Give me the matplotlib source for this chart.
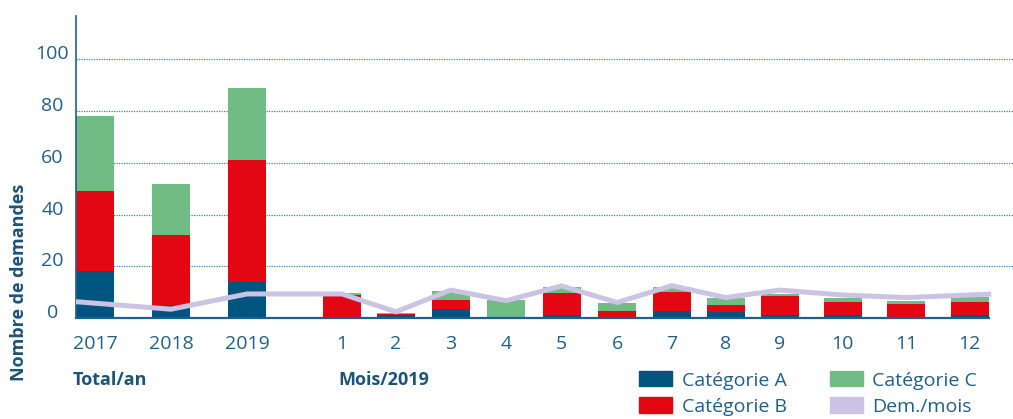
import matplotlib
matplotlib.use('Agg')
import matplotlib.pyplot as plt
import matplotlib.patches as patches

plt.rcParams['font.family'] = ['Open Sans', 'DejaVu Sans']

# données
years = ['2017', '2018', '2019']
months = ['1', '2', '3', '4', '5', '6', '7', '8', '9', '10', '11', '12']

cat_a_year = [18, 5, 14]
cat_b_year = [31, 27, 47]
cat_c_year = [29, 20, 28]
dem_year = [6.3, 3.4, 9.3]

cat_a_month = [0.3, 1, 3.5, 0, 1, 0, 2.7, 2.5, 1, 1, 0, 1]
cat_b_month = [8.5, 0.4, 3.6, 0.5, 8.7, 2.7, 7.5, 2.7, 7.6, 5.3, 5.5, 5.3]
cat_c_month = [0.8, 0.6, 3.3, 6.5, 2.3, 3.1, 1.8, 2.4, 0.8, 1.3, 1.1, 1.8]
dem_month = [9.3, 2.4, 10.8, 6.7, 12.4, 6.0, 12.5, 7.9, 10.8, 8.9, 7.9, 9.2]

# positions des barres (unités = écart entre années)
x_pos = [0, 1, 2, 3.25, 3.96, 4.68, 5.41, 6.14, 6.87, 7.59, 8.30, 9.01, 9.84, 10.67, 11.51]
bar_w = 0.5

col_a = '#005480'
col_b = '#e30613'
col_c = '#71bc85'
col_dem = '#cbc3e3'
txt = '#1f5f8b'
txt_bold = '#1b5479'

labels = years + months
a = cat_a_year + cat_a_month
b = cat_b_year + cat_b_month
c = cat_c_year + cat_c_month
dem = dem_year + dem_month

fig = plt.figure(figsize=(10.13, 4.19), dpi=100)
ax = fig.add_axes([76 / 1013, 101 / 419, 937 / 1013, 302 / 419])

ab = [i + j for i, j in zip(a, b)]
ax.bar(x_pos, a, bar_w, color=col_a, zorder=2)
ax.bar(x_pos, b, bar_w, bottom=a, color=col_b, zorder=2)
ax.bar(x_pos, c, bar_w, bottom=ab, color=col_c, zorder=2)

# la courbe part du bord de la première barre et finit au bord de la dernière
line_x = list(x_pos)
line_x[0] -= bar_w / 2
line_x[-1] += bar_w / 2
ax.plot(line_x, dem, color=col_dem, lw=3.6, solid_joinstyle='miter', zorder=3)

ax.set_xlim(x_pos[0] - bar_w / 2, 12.08)
ax.set_ylim(0, 116.8)

for g in [20, 40, 60, 80, 100]:
    ax.axhline(g, color='#3f83ad', lw=0.9, ls=(0, (1, 1)), zorder=1)

ax.set_xticks(x_pos)
ax.set_xticklabels(labels)
ax.set_yticks([0, 20, 40, 60, 80, 100])
ax.tick_params(axis='both', length=0, labelsize=14, labelcolor=txt)
ax.tick_params(axis='x', pad=12)
ax.tick_params(axis='y', pad=17)
for t in ax.get_yticklabels():
    t.set_ha('center')
    t.set_va('baseline')

for s in ['top', 'right']:
    ax.spines[s].set_visible(False)
ax.spines['left'].set_color('#1f5f8b')
ax.spines['bottom'].set_color('#1f5f8b')
ax.spines['left'].set_linewidth(1.2)
ax.spines['bottom'].set_linewidth(1.6)
ax.spines['bottom'].set_bounds(x_pos[0] - bar_w / 2, x_pos[-1] + bar_w / 2)

fig.text(19 / 1013, 1 - 282 / 419, 'Nombre de demandes', rotation=90,
         ha='center', va='center', fontsize=13, fontweight='bold', color=txt_bold)
fig.text(73 / 1013, 1 - 379.5 / 419, 'Total/an', ha='left', va='center',
         fontsize=13, fontweight='bold', color=txt_bold)
fig.text(338 / 1013, 1 - 379.5 / 419, 'Mois/2019', ha='left', va='center',
         fontsize=13, fontweight='bold', color=txt_bold)

handles = [patches.Patch(color=col_a, label='Catégorie A'),
           patches.Patch(color=col_b, label='Catégorie B'),
           patches.Patch(color=col_c, label='Catégorie C'),
           patches.Patch(color=col_dem, label='Dem./mois')]
leg = fig.legend(handles=handles, ncol=2, loc='center left',
                 bbox_to_anchor=(639 / 1013, 25.5 / 419), frameon=False,
                 fontsize=14, handlelength=1.7, handleheight=0.82,
                 handletextpad=0.5, columnspacing=2.2, labelspacing=0.4,
                 borderpad=0, borderaxespad=0)
for t in leg.get_texts():
    t.set_color(txt)

fig.savefig('out.png', dpi=100)
